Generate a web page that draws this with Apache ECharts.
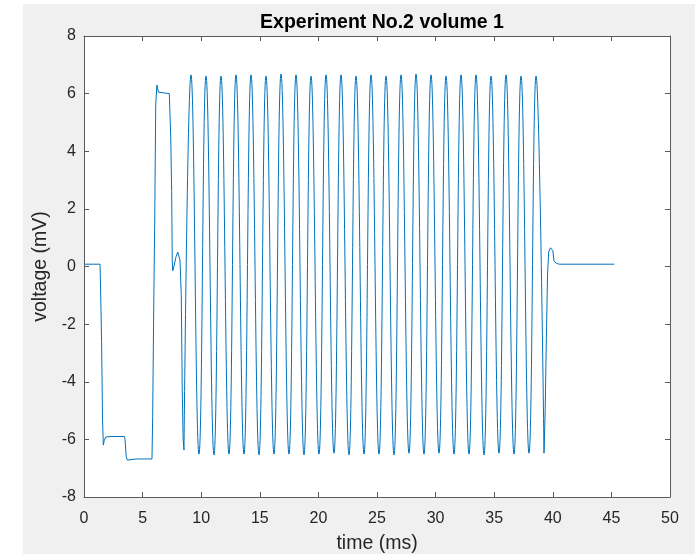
<!DOCTYPE html>
<html>
<head>
<meta charset="utf-8">
<script src="https://cdn.jsdelivr.net/npm/echarts@6/dist/echarts.min.js"></script>
<style>
html,body{margin:0;padding:0;background:#ffffff;width:695px;height:554px;overflow:hidden;}
#chart{position:absolute;left:23px;top:4px;width:672px;height:550px;}
</style>
</head>
<body>
<div id="chart"></div>
<script>
// ---- data ----
const titleText = 'Experiment No.2 volume 1';
const xName = 'time (ms)';
const yName = 'voltage (mV)';
const xTicks = [0, 5, 10, 15, 20, 25, 30, 35, 40, 45, 50];
const yTicks = [-8, -6, -4, -2, 0, 2, 4, 6, 8];

// lead-in segment (time ms, voltage mV)
const preT = [0, 1.37, 1.45, 1.5, 1.58, 1.65, 1.72, 1.85, 2.3, 3.45, 3.5, 3.6, 3.7, 4.5, 5.8, 5.86, 5.95, 6.03, 6.12, 6.22, 6.35, 6.5, 7.28, 7.4, 7.48, 7.53, 7.57, 7.7, 7.85, 8.0, 8.08, 8.19, 8.3, 8.38, 8.46, 8.53];
const preV = [0.08, 0.08, -1.5, -2.6, -5.3, -6.2, -6.05, -5.92, -5.9, -5.9, -6.0, -6.6, -6.72, -6.68, -6.68, -5.2, -1.4, 1.4, 5.6, 6.3, 6.05, 6.0, 6.0, 4.5, 2.6, 0.2, -0.15, 0.05, 0.34, 0.5, 0.48, 0.22, -1.0, -4.2, -6.0, -6.37];

// oscillation: troughs and peaks
const troughT = [8.53, 9.81, 11.09, 12.37, 13.65, 14.93, 16.21, 17.49, 18.77, 20.05, 21.33, 22.61, 23.89, 25.17, 26.45, 27.73, 29.01, 30.29, 31.57, 32.85, 34.13, 35.41, 36.69, 37.97, 39.25];
const troughV = [-6.37, -6.51, -6.54, -6.51, -6.51, -6.54, -6.51, -6.51, -6.54, -6.51, -6.48, -6.54, -6.51, -6.51, -6.54, -6.48, -6.51, -6.48, -6.51, -6.51, -6.54, -6.48, -6.51, -6.48, -6.48];
const peakT = [9.13, 10.41, 11.69, 12.97, 14.25, 15.53, 16.81, 18.09, 19.37, 20.65, 21.93, 23.21, 24.49, 25.77, 27.05, 28.33, 29.61, 30.89, 32.17, 33.45, 34.73, 36.01, 37.29, 38.57];
const peakV = [6.65, 6.61, 6.61, 6.65, 6.65, 6.61, 6.68, 6.65, 6.61, 6.65, 6.65, 6.61, 6.65, 6.61, 6.65, 6.68, 6.65, 6.61, 6.65, 6.65, 6.61, 6.65, 6.61, 6.61];

// tail segment
const postT = [39.25, 39.35, 39.45, 39.55, 39.65, 39.8, 39.92, 40.0, 40.1, 40.3, 40.55, 45.25];
const postV = [-6.48, -5.0, -2.5, -0.3, 0.5, 0.65, 0.67, 0.55, 0.2, 0.11, 0.08, 0.08];

// ---- build series data ----
const preData = preT.map((t, i) => [t, preV[i]]);
const postData = postT.map((t, i) => [t, postV[i]]);
const oscData = [];
for (let i = 0; i < troughT.length; i++) {
  oscData.push([troughT[i], troughV[i]]);
  if (i < peakT.length) oscData.push([peakT[i], peakV[i]]);
}

const FONT = "'Liberation Sans', Arial, Helvetica, sans-serif";
const AX = '#262626';
const LINE = '#0072BD';

const chart = echarts.init(document.getElementById('chart'), null, {renderer: 'canvas'});
const axisCommon = {
  axisLine: {show: true, onZero: false, lineStyle: {color: '#5a5a5a', width: 1}},
  axisTick: {show: true, inside: true, length: 5, lineStyle: {color: '#5a5a5a', width: 1}},
  splitLine: {show: false}
};
chart.setOption({
  backgroundColor: '#f0f0f0',
  animation: false,
  title: {
    text: titleText, left: 354, textAlign: 'center', top: 4,
    textStyle: {fontFamily: FONT, fontSize: 19.5, fontWeight: 'bold', color: '#000'}
  },
  grid: {left: 61, top: 32, right: 25, bottom: 57, show: true, backgroundColor: '#ffffff', borderWidth: 0,
         containLabel: false, outerBoundsMode: 'none'},
  xAxis: [
    Object.assign({
      type: 'value', min: xTicks[0], max: xTicks[xTicks.length - 1], interval: 5, position: 'bottom',
      name: xName, nameLocation: 'middle', nameGap: 37,
      nameTextStyle: {fontFamily: FONT, fontSize: 19.5, color: AX},
      axisLabel: {fontFamily: FONT, fontSize: 16, color: AX, margin: 14}
    }, axisCommon),
    Object.assign({
      type: 'value', min: xTicks[0], max: xTicks[xTicks.length - 1], interval: 5, position: 'top',
      axisLabel: {show: false}
    }, axisCommon)
  ],
  yAxis: [
    Object.assign({
      type: 'value', min: yTicks[0], max: yTicks[yTicks.length - 1], interval: 2, position: 'left',
      name: yName, nameLocation: 'middle', nameGap: 31, nameRotate: 90,
      nameTextStyle: {fontFamily: FONT, fontSize: 19.5, color: AX},
      axisLabel: {fontFamily: FONT, fontSize: 16, color: AX, margin: 8}
    }, axisCommon),
    Object.assign({
      type: 'value', min: yTicks[0], max: yTicks[yTicks.length - 1], interval: 2, position: 'right',
      axisLabel: {show: false}
    }, axisCommon)
  ],
  series: [
    {type: 'line', data: preData, showSymbol: false, symbol: 'none', lineStyle: {color: LINE, width: 1}, clip: true},
    {type: 'line', data: oscData, showSymbol: false, symbol: 'none', smooth: 0.45, lineStyle: {color: LINE, width: 1}, clip: true},
    {type: 'line', data: postData, showSymbol: false, symbol: 'none', lineStyle: {color: LINE, width: 1}, clip: true}
  ]
});
</script>
</body>
</html>
